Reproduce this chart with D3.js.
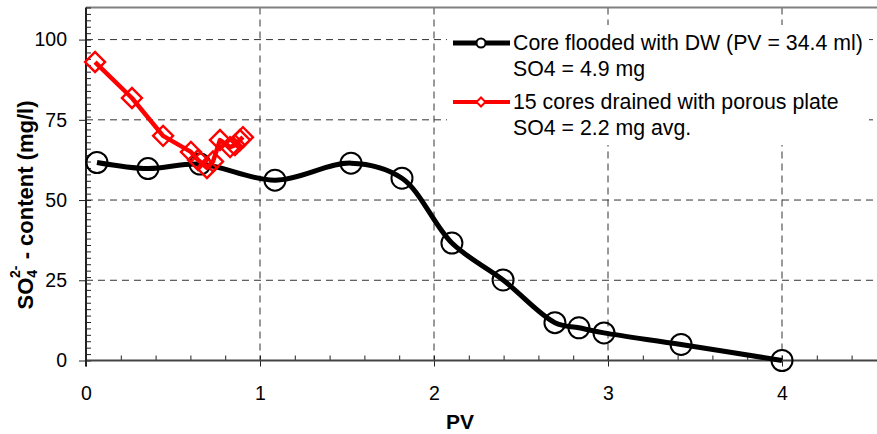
<!DOCTYPE html>
<html>
<head>
<meta charset="utf-8">
<script src="https://cdn.jsdelivr.net/npm/d3@7"></script>
<style>
  body { margin: 0; background: #fff; }
  svg { display: block; font-family: "Liberation Sans", Arial, sans-serif; }
</style>
</head>
<body>
<svg id="chart" width="877" height="434"></svg>
<script>
// ---- data ----
const coreX = [0.063, 0.356, 0.655, 1.086, 1.523, 1.816, 2.103, 2.397, 2.695, 2.833, 2.977, 3.42, 4.0];
const coreY = [61.7, 59.8, 61.2, 56.2, 61.5, 56.8, 36.6, 25.1, 11.8, 10.2, 8.6, 5.0, 0];
const platesX = [0.052, 0.264, 0.443, 0.603, 0.644, 0.695, 0.73, 0.77, 0.828, 0.856, 0.885, 0.902];
const platesY = [93.0, 81.8, 70.0, 65.0, 62.5, 60.0, 62.0, 68.7, 66.5, 67.1, 68.7, 69.6];
const xTickValues = [0, 1, 2, 3, 4];
const yTickValues = [0, 25, 50, 75, 100];
const legendCore = ["Core flooded with DW (PV = 34.4 ml)", "SO4 = 4.9 mg"];
const legendPlates = ["15 cores drained with porous plate", "SO4 = 2.2 mg avg."];
const xTitle = "PV";

// ---- layout ----
const W = 877, H = 434;
const svg = d3.select("#chart");
const x = d3.scaleLinear().domain([0, 4.6]).range([86, 86 + 4.6 * 174]);
const y = d3.scaleLinear().domain([0, 110]).range([360.5, 7.5]);
const x0 = x(0), yBase = y(0), yTop = y(110);
const xRight = W;

// gridlines
const grid = svg.append("g").attr("stroke", "#333").attr("stroke-width", 1).attr("stroke-dasharray", "7,5");
grid.selectAll("line.v").data(xTickValues.filter(d => d > 0)).join("line")
  .attr("x1", d => x(d)).attr("x2", d => x(d)).attr("y1", yTop).attr("y2", yBase);
grid.selectAll("line.h").data(yTickValues.filter(d => d > 0)).join("line")
  .attr("x1", x0).attr("x2", xRight).attr("y1", d => y(d)).attr("y2", d => y(d));

// top border
svg.append("line").attr("x1", x0).attr("x2", xRight).attr("y1", yTop).attr("y2", yTop)
  .attr("stroke", "#808080").attr("stroke-width", 2);

// axes
const xAxisMinor = d3.axisTop(x).tickValues(d3.range(0, 4.61, 0.2)).tickSize(5).tickFormat("");
svg.append("g").attr("transform", `translate(0,${yBase})`).call(xAxisMinor)
  .call(g => g.select(".domain").remove())
  .call(g => g.selectAll("line").attr("stroke", "#222"));
const xAxis = d3.axisBottom(x).tickValues(xTickValues).tickSize(6).tickPadding(20).tickFormat(d3.format("d"));
svg.append("g").attr("transform", `translate(0,${yBase})`).call(xAxis)
  .call(g => g.select(".domain").remove())
  .call(g => g.selectAll("line").attr("stroke", "#222"))
  .call(g => g.selectAll("text").attr("font-size", 19.5).attr("fill", "#000").attr("font-family", "Liberation Sans, Arial, sans-serif"));

const yAxisMinor = d3.axisRight(y).tickValues(d3.range(0, 110.1, 2)).tickSize(5).tickFormat("");
svg.append("g").attr("transform", `translate(${x0},0)`).call(yAxisMinor)
  .call(g => g.select(".domain").remove())
  .call(g => g.selectAll("line").attr("stroke", "#222"));
const yAxis = d3.axisLeft(y).tickValues(yTickValues).tickSize(7).tickPadding(12);
svg.append("g").attr("transform", `translate(${x0},0)`).call(yAxis)
  .call(g => g.select(".domain").remove())
  .call(g => g.selectAll("line").attr("stroke", "#222"))
  .call(g => g.selectAll("text").attr("font-size", 19.5).attr("fill", "#000").attr("font-family", "Liberation Sans, Arial, sans-serif"));

// axis lines
svg.append("line").attr("x1", x0).attr("x2", xRight).attr("y1", yBase).attr("y2", yBase)
  .attr("stroke", "#444").attr("stroke-width", 2.2);
svg.append("line").attr("x1", x0).attr("x2", x0).attr("y1", yTop).attr("y2", yBase + 6)
  .attr("stroke", "#222").attr("stroke-width", 2);

// axis titles
svg.append("text").attr("x", 460).attr("y", 429).attr("text-anchor", "middle")
  .attr("font-weight", "bold").attr("font-size", 21).text(xTitle);

const yt = svg.append("text").attr("transform", `translate(33,${205}) rotate(-90)`)
  .attr("text-anchor", "middle").attr("font-weight", "bold").attr("font-size", 22);
yt.append("tspan").text("SO");
yt.append("tspan").attr("font-size", 14).attr("dy", 4).text("4");
yt.append("tspan").attr("font-size", 14).attr("dx", -8).attr("dy", -17).text("2-");
yt.append("tspan").attr("dy", 13).text(" - content (mg/l)");

// series
const coreData = coreX.map((v, i) => [v, coreY[i]]);
const plateData = platesX.map((v, i) => [v, platesY[i]]);

const smooth = d3.line().x(d => x(d[0])).y(d => y(d[1])).curve(d3.curveCatmullRom.alpha(0.5));
const straight = d3.line().x(d => x(d[0])).y(d => y(d[1]));

svg.append("path").datum(coreData).attr("d", smooth)
  .attr("fill", "none").attr("stroke", "#000").attr("stroke-width", 5).attr("stroke-linejoin", "round");
svg.append("g").selectAll("circle").data(coreData).join("circle")
  .attr("cx", d => x(d[0])).attr("cy", d => y(d[1])).attr("r", 10.5)
  .attr("fill", "none").attr("stroke", "#000").attr("stroke-width", 2);

svg.append("path").datum(plateData).attr("d", straight)
  .attr("fill", "none").attr("stroke", "#ff0000").attr("stroke-width", 4.5).attr("stroke-linejoin", "round");
const diamond = d3.symbol().type(d3.symbolSquare).size(200);
svg.append("g").selectAll("path").data(plateData).join("path")
  .attr("d", diamond)
  .attr("transform", d => `translate(${x(d[0])},${y(d[1])}) rotate(45)`)
  .attr("fill", "none").attr("stroke", "#ff0000").attr("stroke-width", 2.4);

// legend
const lg = svg.append("g");
lg.append("rect").attr("x", 447).attr("y", 25).attr("width", 422).attr("height", 120).attr("fill", "#fff");
// core entry
lg.append("line").attr("x1", 453).attr("x2", 510).attr("y1", 43).attr("y2", 43)
  .attr("stroke", "#000").attr("stroke-width", 5);
lg.append("circle").attr("cx", 481).attr("cy", 43).attr("r", 4.5).attr("fill", "#fff")
  .attr("stroke", "#000").attr("stroke-width", 2);
lg.selectAll("text.c").data(legendCore).join("text").attr("class", "c")
  .attr("x", 513).attr("y", (d, i) => 50 + i * 26).attr("font-size", 21.3).text(d => d);
// plates entry
lg.append("line").attr("x1", 453).attr("x2", 510).attr("y1", 102).attr("y2", 102)
  .attr("stroke", "#ff0000").attr("stroke-width", 4);
lg.append("path").attr("d", d3.symbol().type(d3.symbolSquare).size(40))
  .attr("transform", "translate(481,102) rotate(45)").attr("fill", "#fff")
  .attr("stroke", "#ff0000").attr("stroke-width", 2);
lg.selectAll("text.p").data(legendPlates).join("text").attr("class", "p")
  .attr("x", 513).attr("y", (d, i) => 109 + i * 26).attr("font-size", 21.3).text(d => d);
</script>
</body>
</html>
